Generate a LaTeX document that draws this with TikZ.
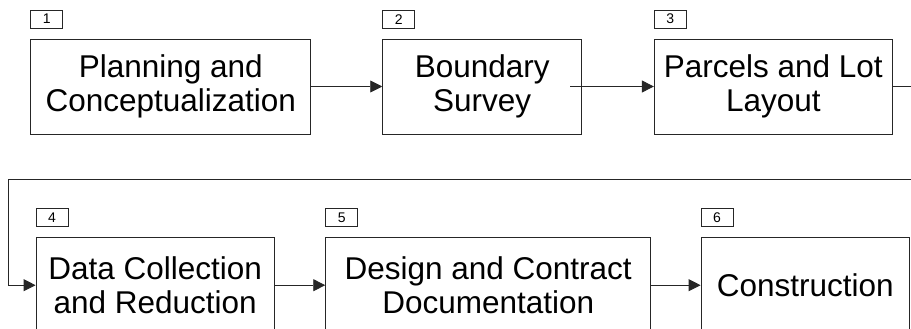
\documentclass[tikz,border=0pt]{standalone}
\usepackage{fontspec}
\setmainfont{Liberation Sans}
\usetikzlibrary{arrows.meta}
\begin{document}
\begin{tikzpicture}[x=1pt,y=-1pt,
  stagebox/.style={draw=black!85, line width=0.9pt, rectangle, align=center, minimum height=95pt,
    font=\fontsize{31.5}{33.5}\selectfont, inner sep=0pt},
  numbox/.style={draw=black!85, line width=0.8pt, rectangle, minimum width=32pt, minimum height=18pt,
    inner sep=0pt, font=\fontsize{14}{15}\selectfont, anchor=south west},
  conn/.style={draw=black!85, line width=0.9pt, -{Triangle[length=12pt,width=12pt]}},
  plain/.style={draw=black!85, line width=0.9pt}]
\useasboundingbox (0,0) rectangle (911,329);
\clip (0,0) rectangle (911,329);
\node[stagebox, minimum width=280pt] (b1) at (170.8,86.5) {Planning and\\Conceptualization};
\node[stagebox, minimum width=199pt] (b2) at (482.2,86.5) {Boundary\\Survey};
\node[stagebox, minimum width=238pt] (b3) at (773.3,86.5) {Parcels and Lot\\Layout};
\node[stagebox, minimum width=238.3pt] (b4) at (155.2,285.2) {Data Collection\\and Reduction};
\node[stagebox, minimum width=325pt] (b5) at (488.2,285.2) {Design and Contract\\Documentation};
\node[stagebox, minimum width=208.3pt] (b6) at (805.2,285.2) {Construction};
\node[numbox] (n1) at ([yshift=10pt]b1.north west) {1};
\node[numbox] (n2) at ([yshift=10pt]b2.north west) {2};
\node[numbox] (n3) at ([yshift=10pt]b3.north west) {3};
\node[numbox] (n4) at ([yshift=10pt]b4.north west) {4};
\node[numbox] (n5) at ([yshift=10pt]b5.north west) {5};
\node[numbox] (n6) at ([yshift=10pt]b6.north west) {6};
\coordinate (r1) at (925,86.5);
\coordinate (r2) at (925,179);
\coordinate (l1) at (8.3,179);
\coordinate (l2) at (8.3,285.2);
\draw[conn] (b1.east) -- (b2.west);
\draw[conn] ([xshift=-12pt]b2.east) -- (b3.west);
\draw[plain] (b3.east) -- (r1) -- (r2) -- (l1) -- (l2);
\draw[conn] (l2) -- (b4.west);
\draw[conn] (b4.east) -- (b5.west);
\draw[conn] (b5.east) -- (b6.west);
\end{tikzpicture}
\end{document}
